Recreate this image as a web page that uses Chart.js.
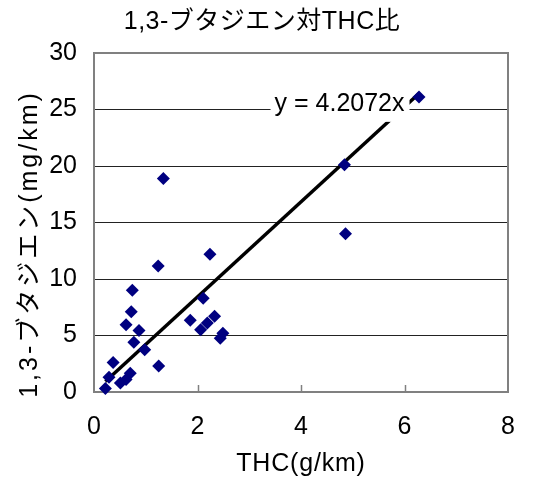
<!DOCTYPE html>
<html>
<head>
<meta charset="utf-8">
<script src="https://cdn.jsdelivr.net/npm/chart.js@4/dist/chart.umd.min.js"></script>
<style>
  html, body { margin: 0; padding: 0; background: #fff; }
  #wrap { width: 537px; height: 486px; }
</style>
</head>
<body>
<div id="wrap"><canvas id="c" width="537" height="486"></canvas></div>
<script>
// THC emission (g/km) and 1,3-butadiene emission (mg/km) per vehicle
const thc       = [0.22, 0.29, 0.37, 0.51, 0.62, 0.70, 0.62, 0.72, 0.74, 0.77, 0.87, 0.98, 1.24,
                   1.25, 1.34, 1.86, 2.06, 2.11, 2.19, 2.24, 2.33, 2.44, 2.49, 4.84, 4.86, 6.28];
const butadiene = [0.3, 1.3, 2.6, 0.8, 1.1, 1.65, 5.95, 7.1, 9.0, 4.4, 5.45, 3.75, 11.15,
                   2.3, 18.9, 6.35, 5.5, 8.3, 6.1, 12.2, 6.7, 4.75, 5.2, 20.1, 14.0, 26.1];

// least-squares slope of the through-origin trend line
const slope = 4.2072;

const xTicks = [0, 2, 4, 6, 8];
const yTicks = [0, 5, 10, 15, 20, 25, 30];

const titleText = '1,3-ブタジエン対THC比';
const xTitle    = 'THC(g/km)';
const yTitle    = '1,3-ブタジエン(mg/km)';
const fitLabel  = 'y = ' + slope.toFixed(4) + 'x';

const FONT = "'Liberation Sans', Arial, 'Noto Sans CJK JP', sans-serif";

const points = thc.map((x, i) => ({ x: x, y: butadiene[i] }));
const xMin = Math.min(...thc);
const xMax = Math.max(...thc);
const trend = [xMin, xMax].map(x => ({ x: x, y: slope * x }));

// plot frame, inner tick marks, equation label, chart and axis titles
const decor = {
  id: 'decor',
  beforeDatasetsDraw(chart) {
    const { ctx, chartArea: a, scales } = chart;
    ctx.save();
    ctx.strokeStyle = '#808080';
    ctx.lineWidth = 2;
    ctx.strokeRect(a.left, a.top, a.right - a.left, a.bottom - a.top);
    ctx.lineWidth = 1.5;
    xTicks.slice(1, -1).forEach(v => {
      const px = Math.round(scales.x.getPixelForValue(v)) + 0.5;
      ctx.beginPath();
      ctx.moveTo(px, a.bottom);
      ctx.lineTo(px, a.bottom - 7);
      ctx.stroke();
    });
    ctx.restore();
  },
  afterDatasetsDraw(chart) {
    const { ctx, scales } = chart;
    ctx.save();
    ctx.font = '25px ' + FONT;
    ctx.textAlign = 'right';
    ctx.textBaseline = 'middle';
    const tx = scales.x.getPixelForValue(6.0);
    const ty = scales.y.getPixelForValue(25.5);
    const w = ctx.measureText(fitLabel).width;
    ctx.fillStyle = '#fff';
    ctx.fillRect(tx - w - 4, ty - 16, w + 9, 34);
    ctx.fillStyle = '#000';
    ctx.fillText(fitLabel, tx, ty);
    ctx.restore();
  },
  afterDraw(chart) {
    const { ctx, chartArea: a } = chart;
    ctx.save();
    ctx.fillStyle = '#000';
    ctx.textAlign = 'center';
    ctx.textBaseline = 'middle';
    ctx.font = '25px ' + FONT;
    ctx.letterSpacing = '0.5px';
    ctx.fillText(titleText, 262, 22);
    ctx.letterSpacing = '0.8px';
    ctx.fillText(xTitle, (a.left + a.right) / 2, 464);
    ctx.translate(30, 244);
    ctx.rotate(-Math.PI / 2);
    ctx.letterSpacing = '3px';
    ctx.fillText(yTitle, 0, 0);
    ctx.restore();
  }
};

new Chart(document.getElementById('c'), {
  type: 'scatter',
  data: {
    datasets: [
      {
        label: '1,3-ブタジエン',
        data: points,
        pointStyle: 'rectRot',
        pointRadius: 6.5,
        pointHoverRadius: 6.5,
        backgroundColor: '#000080',
        borderColor: '#000080',
        borderWidth: 0,
        clip: false
      },
      {
        label: 'trend',
        data: trend,
        showLine: true,
        borderColor: '#000',
        borderWidth: 3.5,
        pointRadius: 0,
        fill: false
      }
    ]
  },
  options: {
    responsive: false,
    animation: false,
    devicePixelRatio: 1,
    layout: { padding: { left: 0, right: 29, top: 53, bottom: 0 } },
    plugins: {
      legend: { display: false },
      tooltip: { enabled: false },
      title: { display: false }
    },
    scales: {
      x: {
        type: 'linear',
        min: 0, max: 8,
        afterBuildTicks: s => { s.ticks = xTicks.map(v => ({ value: v })); },
        afterFit: s => { s.height = 94; },
        grid: { display: false, drawTicks: false },
        border: { display: false },
        ticks: { color: '#000', padding: 20, font: { family: FONT, size: 25 } }
      },
      y: {
        type: 'linear',
        min: 0, max: 30,
        afterBuildTicks: s => { s.ticks = yTicks.map(v => ({ value: v })); },
        afterFit: s => { s.width = 94; },
        grid: {
          drawTicks: false,
          lineWidth: 1,
          color: c => (c.tick && (c.tick.value === 0 || c.tick.value === 30)) ? 'rgba(0,0,0,0)' : '#222'
        },
        border: { display: false },
        ticks: { color: '#000', padding: 17, font: { family: FONT, size: 25 } }
      }
    }
  },
  plugins: [decor]
});
</script>
</body>
</html>
